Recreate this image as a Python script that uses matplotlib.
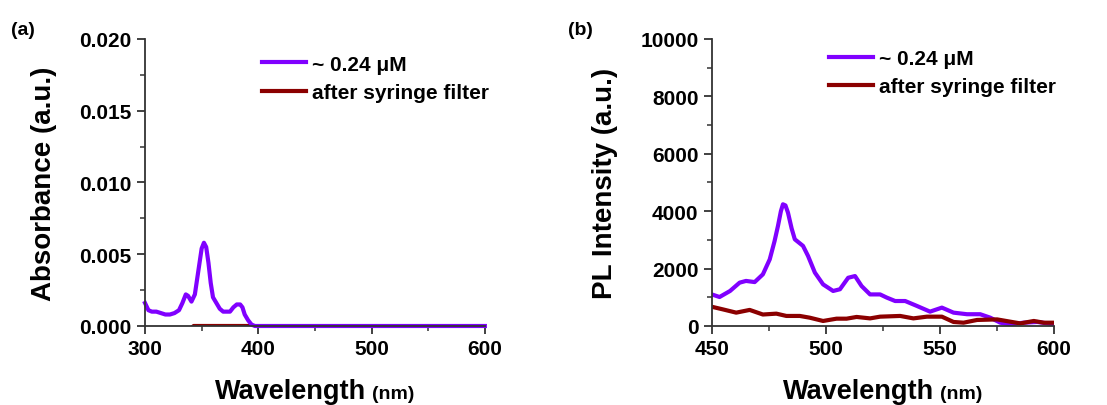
import matplotlib
matplotlib.use("Agg")
import matplotlib.pyplot as plt
from matplotlib.ticker import MultipleLocator, FormatStrFormatter
from matplotlib.offsetbox import TextArea, HPacker, AnnotationBbox

plt.rcParams["font.family"] = ["Liberation Sans", "DejaVu Sans"]
plt.rcParams["font.weight"] = "bold"

PURPLE = "#8000ff"
DARKRED = "#8b0000"

# (a) absorbance
abs_wl = [300, 303, 306, 310, 314, 318, 322, 326, 330, 333, 336, 338, 341, 344,
          347, 350, 352, 354, 356, 358, 360, 363, 366, 369, 372, 375, 378, 381,
          384, 386, 388, 391, 394, 397, 600]
abs_conc = [0.0016, 0.0011, 0.0010, 0.0010, 0.0009, 0.0008, 0.0008, 0.0009,
            0.0011, 0.0016, 0.0022, 0.0021, 0.0017, 0.0022, 0.0038, 0.0054,
            0.0058, 0.0055, 0.0044, 0.0030, 0.0020, 0.0016, 0.0012, 0.0010,
            0.0010, 0.0010, 0.0013, 0.0015, 0.0015, 0.0013, 0.0008, 0.0004,
            0.0001, 0.0, 0.0]
abs_filt_wl = [300, 340, 343, 393, 396, 600]
abs_filt = [-0.0002, -0.0002, 0.0, 0.0, -0.0002, -0.0002]

# (b) photoluminescence
pl_wl = [450, 453.4, 458, 462.2, 465, 468.8, 472.4, 475.4, 477.5, 479, 480.3,
         481.2, 482.3, 483.4, 485, 486.4, 490, 492.2, 495.2, 498.8, 503.2,
         506.2, 509.8, 512.8, 515.7, 519.4, 523.8, 526.7, 530.4, 534.8, 539.9,
         545.7, 550.9, 556, 561.9, 567.7, 572.1, 576.5, 580.9, 586.8, 592.7, 600]
pl_conc = [1100, 1010, 1220, 1510, 1570, 1530, 1800, 2320, 2950, 3480, 4000,
           4240, 4200, 3950, 3400, 3020, 2790, 2440, 1860, 1450, 1220, 1280,
           1680, 1740, 1390, 1100, 1100, 990, 870, 870, 700, 500, 640, 465,
           410, 410, 290, 115, 60, 115, 140, 60]
pl_filt_wl = [450, 454.8, 460.7, 466.6, 472.4, 478.3, 482.7, 488.6, 492.9,
              498.8, 504.7, 509.1, 513.5, 519.4, 523.8, 532.6, 538.4, 544.3,
              550.9, 556, 560.4, 566.3, 575.1, 580.9, 585.3, 591.2, 595.6, 600]
pl_filt = [670, 580, 465, 560, 400, 430, 350, 350, 290, 175, 255, 255, 315,
           265, 325, 350, 265, 325, 325, 140, 115, 210, 230, 150, 90, 175,
           115, 115]

labels = ["~ 0.24 \u03bcM", "after syringe filter"]


def style_axes(ax):
    for s in ["top", "right"]:
        ax.spines[s].set_visible(False)
    for s in ["left", "bottom"]:
        ax.spines[s].set_linewidth(1.3)
        ax.spines[s].set_color("#333333")
    ax.tick_params(which="major", direction="out", length=6, width=1.3,
                   labelsize=15, color="#333333")
    ax.tick_params(which="minor", direction="out", length=3.5, width=1.1,
                   color="#333333")
    for lab in ax.get_xticklabels() + ax.get_yticklabels():
        lab.set_fontweight("bold")


def wavelength_label(ax):
    t1 = TextArea("Wavelength", textprops=dict(size=19.5, weight="bold"))
    t2 = TextArea("(nm)", textprops=dict(size=14, weight="bold"))
    box = HPacker(children=[t1, t2], align="baseline", pad=0, sep=4)
    ab = AnnotationBbox(box, (0.5, -0.225), xycoords="axes fraction",
                        frameon=False, box_alignment=(0.5, 0.5))
    ax.add_artist(ab)


fig = plt.figure(figsize=(11.07, 4.06), dpi=100)
ax1 = fig.add_axes([0.131, 0.1946, 0.307, 0.707])
ax2 = fig.add_axes([0.643, 0.1946, 0.309, 0.707])

leg_kw = dict(loc="upper left", frameon=False, borderpad=0, borderaxespad=0,
              handlelength=2.1, handletextpad=0.3, labelspacing=0.45,
              prop=dict(size=15, weight="bold"))

ax1.plot(abs_filt_wl, abs_filt, color=DARKRED, lw=3, label=labels[1])
ax1.plot(abs_wl, abs_conc, color=PURPLE, lw=3, label=labels[0], clip_on=False)
ax1.set_xlim(300, 600)
ax1.set_ylim(0, 0.020)
ax1.xaxis.set_major_locator(MultipleLocator(100))
ax1.xaxis.set_minor_locator(MultipleLocator(50))
ax1.yaxis.set_major_locator(MultipleLocator(0.005))
ax1.yaxis.set_minor_locator(MultipleLocator(0.0025))
ax1.yaxis.set_major_formatter(FormatStrFormatter("%.3f"))
ax1.set_ylabel("Absorbance (a.u.)", fontsize=20, fontweight="bold", labelpad=16)
style_axes(ax1)
wavelength_label(ax1)
h, l = ax1.get_legend_handles_labels()
ax1.legend(h[::-1], l[::-1], bbox_to_anchor=(0.344, 0.945), **leg_kw)

ax2.plot(pl_wl, pl_conc, color=PURPLE, lw=3, label=labels[0])
ax2.plot(pl_filt_wl, pl_filt, color=DARKRED, lw=3, label=labels[1])
ax2.set_xlim(450, 600)
ax2.set_ylim(0, 10000)
ax2.xaxis.set_major_locator(MultipleLocator(50))
ax2.xaxis.set_minor_locator(MultipleLocator(25))
ax2.yaxis.set_major_locator(MultipleLocator(2000))
ax2.yaxis.set_minor_locator(MultipleLocator(1000))
ax2.set_ylabel("PL Intensity (a.u.)", fontsize=20, fontweight="bold", labelpad=16)
style_axes(ax2)
wavelength_label(ax2)
ax2.legend(bbox_to_anchor=(0.342, 0.965), **leg_kw)

fig.text(0.010, 0.915, "(a)", fontsize=14, fontweight="bold")
fig.text(0.513, 0.915, "(b)", fontsize=14, fontweight="bold")

fig.savefig("out.png", dpi=100)
